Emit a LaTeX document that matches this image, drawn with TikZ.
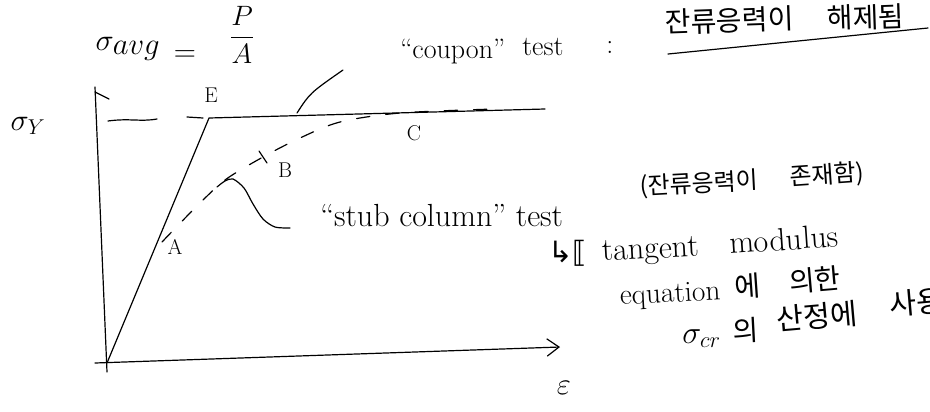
\RequirePackage{fix-cm}
\documentclass[tikz,border=0pt]{standalone}
\usepackage{fontspec}
\usetikzlibrary{arrows.meta}
\newfontfamily\krfont{Noto Sans CJK KR}
\newfontfamily\dvfont{DejaVu Sans}
\begin{document}
\begin{tikzpicture}[x=0.75pt,y=-0.75pt, line cap=round, line join=round,
  ink/.style={line width=0.9pt, draw=black},
  lat/.style={font=\fontsize{23}{26}\selectfont, inner sep=0pt},
  latw/.style={lat, anchor=base west},
  kor/.style={font=\krfont\fontsize{21}{24}\selectfont, inner sep=0pt, anchor=base west},
  lbl/.style={font=\fontsize{16}{18}\selectfont, inner sep=0pt},
  dashcurve/.style={ink, dash pattern=on 10pt off 12pt}]
\useasboundingbox (0,0) rectangle (930,411);
\fill[white] (0,0) rectangle (930,411);

% axes
\coordinate (Obot) at (107,372);
\coordinate (orig) at (107,363);
\coordinate (Ytop) at (95,87);
\coordinate (Ybarb) at (109,99);
\coordinate (Xstart) at (95,363);
\coordinate (Xend) at (560,347);
\draw[ink] (Obot) -- (Ytop);
\draw[ink] (95,92) -- (Ybarb);
\draw[ink, -{Straight Barb[length=9pt,width=13pt,line width=0.9pt]}] (Xstart) -- (Xend);

% labels of axes and formula
\node[lat] (sy) at (28,126) {$\sigma_{Y}$};
\node[lat] (eps) at (564,388) {$\varepsilon$};
\node[lat] (savg) at (128,49) {$\sigma_{\textstyle avg}$};
\node[lat] (eqs) at (185,56) {$=$};
\node[lat, font=\fontsize{21}{24}\selectfont] (frac) at (242,35) {$\displaystyle\frac{P}{A}$};

% sigma_Y dashes
\draw[ink] (108,121) .. controls (130,118) and (140,122) .. (157,119);
\draw[ink] (187,117) -- (203,118);

% stress-strain lines
\coordinate (Ept) at (209,118);
\coordinate (Cend) at (545,109);
\draw[ink] (orig) -- (Ept) -- (Cend);

% dashed stub column curve
\draw[dashcurve] plot[smooth] coordinates {(162,242) (195,208) (225,180) (263,157) (300,138) (340,122) (400,113) (495,109)};
\draw[ink] (259,151) -- (267,163);

% point labels
\node[lbl] (E) at (211,95) {E};
\node[lbl] (A) at (175,247) {A};
\node[lbl] (B) at (285,170) {B};
\node[lbl] (C) at (414,133) {C};

% coupon leader
\coordinate (cl1) at (297,113);
\coordinate (cl2) at (343,70);
\draw[ink] (cl1) .. controls (310,93) .. (cl2);

% top texts
\node[latw, font=\fontsize{21}{24}\selectfont] (coupon) at (400,58) {``coupon''};
\node[latw, font=\fontsize{21}{24}\selectfont] (ctest) at (522,55) {test};
\node[latw, font=\fontsize{21}{24}\selectfont] (colon) at (606,53) {:};
\node[kor, rotate=2] (rel1) at (665,33) {잔류응력이};
\node[kor, rotate=2] (rel2) at (827,29) {해제됨};
\draw[ink] (668,54) -- (928,28);

% stub leader
\draw[ink] plot[smooth] coordinates {(217,187) (225,181) (233,179) (244,188) (253,204) (263,219) (275,227) (290,228)};

% stub texts
\node[latw, font=\fontsize{24}{27}\selectfont] (stub) at (320,226) {``stub column'' test};
\node[kor, font=\krfont\fontsize{18}{21}\selectfont, rotate=3] (ex1) at (640,195) {(잔류응력이};
\node[kor, font=\krfont\fontsize{18}{21}\selectfont, rotate=4] (ex2) at (790,186) {존재함)};
\node[latw, font=\dvfont\fontsize{22}{24}\selectfont] (arr) at (548,262) {↳⟦};
\node[latw, font=\fontsize{24}{27}\selectfont, rotate=3] (tang) at (602,261) {tangent};
\node[latw, font=\fontsize{24}{27}\selectfont, rotate=4] (modu) at (730,254) {modulus};
\node[latw, font=\fontsize{22}{25}\selectfont, rotate=3] (equ) at (620,305) {equation};
\node[kor, font=\krfont\fontsize{21}{24}\selectfont, rotate=4] (equ2) at (735,298) {에};
\node[kor, font=\krfont\fontsize{21}{24}\selectfont, rotate=5] (equ3) at (790,293) {의한};
\node[latw, font=\fontsize{24}{27}\selectfont] (scr) at (682,343) {$\sigma_{cr}$};
\node[kor, font=\krfont\fontsize{21}{24}\selectfont, rotate=3] (scr2) at (733,342) {의};
\node[kor, font=\krfont\fontsize{22}{25}\selectfont, rotate=5] (scr3) at (777,331) {산정에};
\node[kor, font=\krfont\fontsize{22}{25}\selectfont, rotate=5] (scr4) at (890,316) {사용};
\end{tikzpicture}
\end{document}
